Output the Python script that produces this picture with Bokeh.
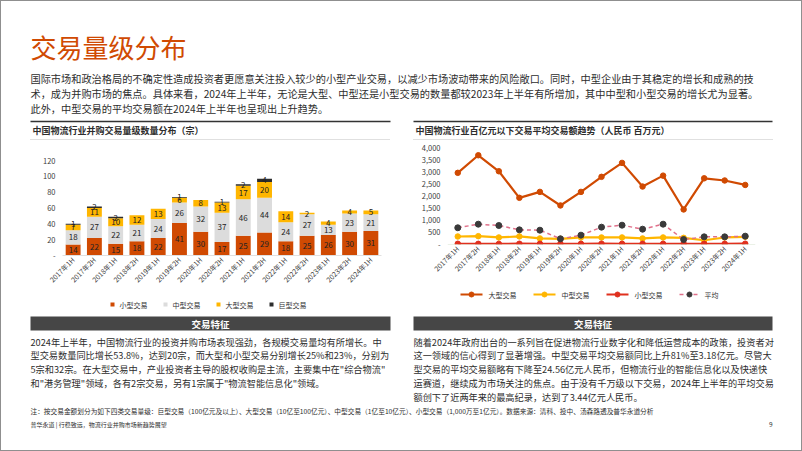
import math
from bokeh.plotting import figure
from bokeh.models import (Range1d, FactorRange, ColumnDataSource, FixedTicker, NumeralTickFormatter,
                          Span)
from bokeh.layouts import column, row
from bokeh.embed import file_html
from bokeh.resources import INLINE
from bokeh.core.properties import value

FONT = "Noto Sans CJK SC"

# ---------------- data ----------------
periods = ["2017年1H", "2017年2H", "2018年1H", "2018年2H", "2019年1H", "2019年2H",
           "2020年1H", "2020年2H", "2021年1H", "2021年2H", "2022年1H", "2022年2H",
           "2023年1H", "2023年2H", "2024年1H"]

small_cnt = [14, 22, 15, 18, 22, 41, 30, 17, 25, 29, 18, 25, 26, 30, 31]
medium_cnt = [18, 27, 22, 21, 24, 26, 32, 37, 46, 44, 24, 27, 13, 23, 21]
large_cnt = [7, 11, 10, 12, 13, 6, 8, 13, 17, 20, 14, 2, 4, 4, 5]
huge_cnt = [1, 2, 2, 0, 0, 1, 0, 1, 2, 4, 0, 0, 0, 0, 0]
count_names = ["小型交易", "中型交易", "大型交易", "巨型交易"]

large_avg = [2955, 3680, 3020, 1925, 2170, 1610, 2170, 2790, 3365, 2390, 2840, 1445, 2730, 2640, 2456]
medium_avg = [330, 344, 290, 335, 250, 235, 290, 290, 290, 250, 290, 275, 176, 290, 318]
small_avg = [30, 28, 25, 32, 30, 28, 30, 33, 30, 30, 28, 27, 26, 30, 32]
overall_avg = [690, 838, 783, 605, 590, 235, 385, 715, 797, 632, 838, 206, 316, 316, 344]
avg_names = ["大型交易", "中型交易", "小型交易", "平均"]

bar_ticks = [0, 20, 40, 60, 80, 100, 120]
line_ticks = [0, 500, 1000, 1500, 2000, 2500, 3000, 3500, 4000]

# ---------------- styles ----------------
ORANGE = "#d04a02"
GREY = "#dcdcdc"
YELLOW = "#ffb600"
DARK = "#2d2d2d"
RED = "#e0301e"
PINK = "#e0708a"
AVGDOT = "#3a3a3a"
TEXT = "#2d2d2d"
BOX = "#464646"

W = 802


def text_fig(h, y0):
    p = figure(width=W, height=h, x_range=Range1d(0, W), y_range=Range1d(y0 + h, y0),
               x_axis_type=None, y_axis_type=None, output_backend="svg",
               toolbar_location=None, min_border=0)
    p.grid.visible = False
    p.outline_line_color = None
    p.background_fill_alpha = 0
    p.border_fill_alpha = 0
    return p


def txt(p, x, y, s, size, color=TEXT, bold=False, align="left"):
    p.text(x=[x], y=[y], text=[s], text_font=value(FONT), text_font_size=size,
           text_color=color, text_baseline="middle", text_align=align,
           text_font_style="bold" if bold else "normal")


# ---------------- top block ----------------
TOP_H = 141
top = text_fig(TOP_H, 0)
txt(top, 30, 46, "交易量级分布", "26px", color=ORANGE)
para = [
    "国际市场和政治格局的不确定性造成投资者更愿意关注投入较少的小型产业交易，以减少市场波动带来的风险敞口。同时，中型企业由于其稳定的增长和成熟的技",
    "术，成为并购市场的焦点。具体来看，2024年上半年，无论是大型、中型还是小型交易的数量都较2023年上半年有所增加，其中中型和小型交易的增长尤为显著。",
    "此外，中型交易的平均交易额在2024年上半年也呈现出上升趋势。",
]
for i, s in enumerate(para):
    txt(top, 30, 78 + i * 15, s, "10.2px")
top.segment(x0=[30, 413], y0=[121, 121], x1=[390, 772], y1=[121, 121], line_color="#333333", line_width=1.5)
top.segment(x0=[30, 413], y0=[139, 139], x1=[390, 772], y1=[139, 139], line_color="#b0b0b0",
            line_width=0.8, line_dash="1 1")
txt(top, 32, 130, "中国物流行业并购交易量级数量分布（宗）", "9px", bold=True)
txt(top, 415, 130, "中国物流行业百亿元以下交易平均交易额趋势（人民币 百万元）", "9px", bold=True)

# ---------------- charts ----------------
ROW_Y0, ROW_Y1 = 141, 312
ROW_H = ROW_Y1 - ROW_Y0

keys = ["small", "medium", "large", "huge"]
bar_cols = [ORANGE, GREY, YELLOW, DARK]
src = ColumnDataSource(dict(period=periods, small=small_cnt, medium=medium_cnt,
                            large=large_cnt, huge=huge_cnt))
# bar frame: 120 at y=160, 0 at y=255
pb = figure(width=401, height=ROW_H, x_range=FactorRange(factors=periods), y_range=Range1d(0, 120),
            output_backend="svg", toolbar_location=None,
            min_border_left=62, min_border_right=20, min_border_top=160 - ROW_Y0,
            min_border_bottom=ROW_Y1 - 255)
pb.frame_align = False
pb.vbar_stack(keys, x="period", width=0.7, fill_color=bar_cols, line_color=None, source=src)

lx, ly, lt = [], [], []
series = [small_cnt, medium_cnt, large_cnt, huge_cnt]
for i, per in enumerate(periods):
    base = 0
    for s in series:
        v = s[i]
        if v > 0:
            lx.append(per)
            ly.append(base + v / 2)
            lt.append(str(v))
        base += v
pb.text(x=lx, y=ly, text=lt, text_font=value(FONT), text_font_size="8px", text_color="#222222",
        text_align="center", text_baseline="middle")

# line frame: 4,000 at y=147, 0 at y=244
pl = figure(width=401, height=ROW_H, x_range=FactorRange(factors=periods), y_range=Range1d(0, 4000),
            output_backend="svg", toolbar_location=None,
            min_border_left=46, min_border_right=47, min_border_top=147 - ROW_Y0,
            min_border_bottom=ROW_Y1 - 244)
pl.frame_align = False
line_cols = [ORANGE, YELLOW, RED]
pl.add_layout(Span(location=0, dimension="width", line_color="#d8e4d0", line_width=1))
for vals, col in zip([large_avg, medium_avg, small_avg], line_cols):
    pl.line(periods, vals, line_color=col, line_width=2.2)
    pl.scatter(periods, vals, size=5.5, fill_color=col, line_color=col)
pl.line(periods, overall_avg, line_color=PINK, line_width=1.5, line_dash="4 3")
pl.scatter(periods, overall_avg, size=6, fill_color=AVGDOT, line_color=AVGDOT)

for p, ticks in [(pb, bar_ticks), (pl, line_ticks)]:
    p.grid.visible = False
    p.outline_line_color = None
    p.background_fill_alpha = 0
    p.border_fill_alpha = 0
    p.yaxis.ticker = FixedTicker(ticks=ticks)
    p.yaxis.formatter = NumeralTickFormatter(format="0,0")
    p.yaxis.major_label_overrides = {0: "-"}
    p.yaxis.axis_line_color = None
    p.axis.major_tick_line_color = None
    p.axis.minor_tick_line_color = None
    p.axis.major_tick_out = 0
    p.axis.major_tick_in = 0
    p.yaxis.major_label_standoff = 7
    p.axis.major_label_text_font = FONT
    p.axis.major_label_text_font_size = "7.5px"
    p.xaxis.major_label_text_font_size = "7px"
    p.axis.major_label_text_color = "#404040"
    p.xaxis.major_label_orientation = math.pi / 4
    p.xaxis.major_label_standoff = 3
    p.xaxis.axis_line_color = None
pb.xaxis.axis_line_color = "#e0e0e0"

# ---------------- bottom block (overlaps the lower strip of the chart row) ----------------
BOT_Y0 = 289
bot = text_fig(451 - BOT_Y0, BOT_Y0)
bot.margin = (BOT_Y0 - ROW_Y1, 0, 0, 0)

# legend of the bar chart
bx = [112 + i * 53 for i in range(4)]
bot.scatter(x=bx, y=[304] * 4, marker="square", size=4, fill_color=bar_cols, line_color=None)
for x, n in zip(bx, count_names):
    txt(bot, x + 7, 304, n, "7px", color="#333333")

# legend of the line chart
lxs = [460 + i * 73 for i in range(4)]
for x, n, col in zip(lxs[:3], avg_names[:3], line_cols):
    bot.segment(x0=[x], y0=[294], x1=[x + 22], y1=[294], line_color=col, line_width=2)
    bot.scatter(x=[x + 11], y=[294], size=5, fill_color=col, line_color=col)
    txt(bot, x + 28, 294, n, "7px", color="#333333")
x = lxs[3]
bot.segment(x0=[x], y0=[294], x1=[x + 20], y1=[294], line_color=PINK, line_width=1.5, line_dash="4 3")
bot.scatter(x=[x + 10], y=[294], size=5, fill_color=AVGDOT, line_color=AVGDOT)
txt(bot, x + 25, 294, avg_names[3], "7px", color="#333333")

bot.quad(left=[30, 413], right=[390, 772], top=[316, 316], bottom=[330, 330],
         fill_color=BOX, line_color=None)
txt(bot, 210, 323, "交易特征", "9.5px", color="white", bold=True, align="center")
txt(bot, 592.5, 323, "交易特征", "9.5px", color="white", bold=True, align="center")
left_lines = [
    "2024年上半年，中国物流行业的投资并购市场表现强劲，各规模交易量均有所增长。中",
    "型交易数量同比增长53.8%，达到20宗，而大型和小型交易分别增长25%和23%，分别为",
    "5宗和32宗。在大型交易中，产业投资者主导的股权收购是主流，主要集中在\"综合物流\"",
    "和\"港务管理\"领域，各有2宗交易，另有1宗属于\"物流智能信息化\"领域。",
]
right_lines = [
    "随着2024年政府出台的一系列旨在促进物流行业数字化和降低运营成本的政策，投资者对",
    "这一领域的信心得到了显著增强。中型交易平均交易额同比上升81%至3.18亿元。尽管大",
    "型交易的平均交易额略有下降至24.56亿元人民币，但物流行业的智能信息化以及快递快",
    "运赛道，继续成为市场关注的焦点。由于没有千万级以下交易，2024年上半年的平均交易",
    "额创下了近两年来的最高纪录，达到了3.44亿元人民币。",
]
for i, s in enumerate(left_lines):
    txt(bot, 30, 341 + i * 13.75, s, "9.2px")
for i, s in enumerate(right_lines):
    txt(bot, 413, 341 + i * 13.75, s, "9.2px")
txt(bot, 30, 410, "注：按交易金额划分为如下四类交易量级：巨型交易（100亿元及以上）、大型交易（10亿至100亿元）、中型交易（1亿至10亿元）、小型交易（1,000万至1亿元）。数据来源：清科、投中、汤森路透及普华永道分析", "6.7px")
txt(bot, 30, 424, "普华永道 | 行稳致远，物流行业并购市场新趋势展望", "6px")
txt(bot, 772, 424, "9", "6.5px", align="right")

layout = column(top, row(pb, pl, spacing=0), bot, spacing=0)
layout.styles = {"box-shadow": "inset 0 0 0 1px #8f8f8f"}
open("out.html", "w").write(file_html(layout, INLINE))
